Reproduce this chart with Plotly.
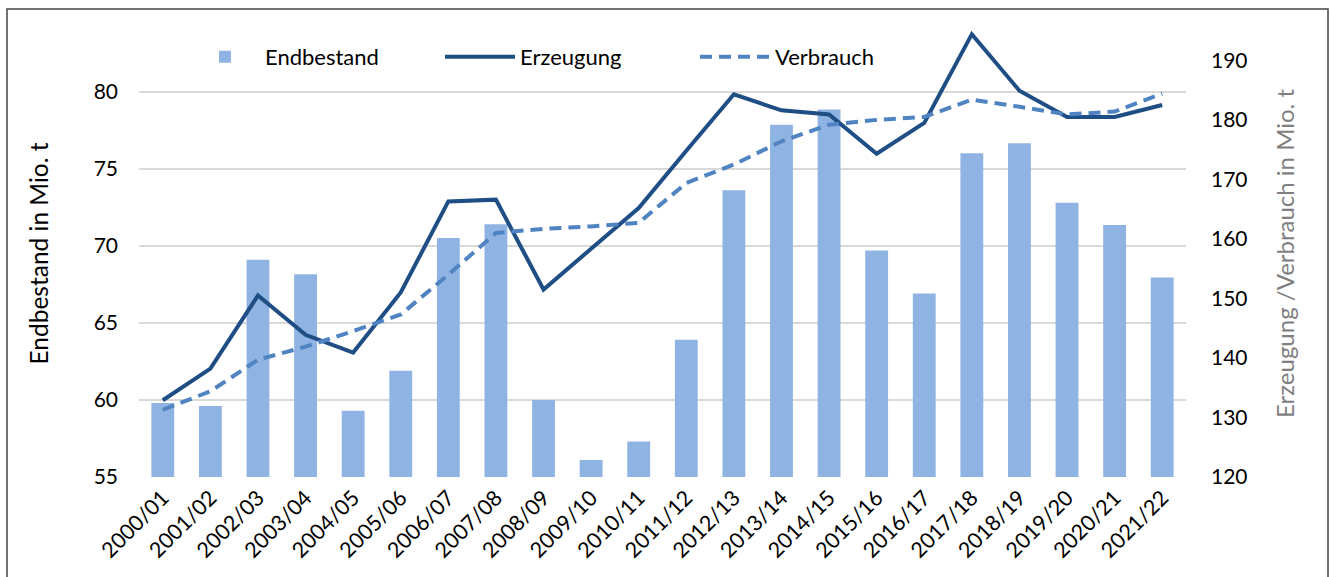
import plotly.graph_objects as go

categories = ["2000/01", "2001/02", "2002/03", "2003/04", "2004/05", "2005/06", "2006/07",
              "2007/08", "2008/09", "2009/10", "2010/11", "2011/12", "2012/13", "2013/14",
              "2014/15", "2015/16", "2016/17", "2017/18", "2018/19", "2019/20", "2020/21",
              "2021/22"]
endbestand = [59.8, 59.6, 69.1, 68.15, 59.3, 61.9, 70.5, 71.4, 60.0, 56.1, 57.3, 63.9,
              73.6, 77.85, 78.85, 69.7, 66.9, 76.0, 76.65, 72.8, 71.35, 67.95]
erzeugung = [132.9, 138.2, 150.5, 143.9, 140.9, 151.0, 166.3, 166.6, 151.5, 158.4, 165.2,
             174.8, 184.3, 181.6, 180.9, 174.3, 179.5, 194.4, 184.9, 180.5, 180.5, 182.5]
verbrauch = [131.3, 134.4, 139.7, 141.9, 144.5, 147.3, 154.0, 161.0, 161.7, 162.1, 162.7,
             169.4, 172.5, 176.4, 179.2, 180.0, 180.5, 183.4, 182.2, 180.9, 181.4, 184.4]

left_ticks = [55, 60, 65, 70, 75, 80]
right_ticks = [120, 130, 140, 150, 160, 170, 180, 190]

FONT = "Lato"
ML, MR, MT, MB = 139, 144, 30, 100
PW = 1330 - ML - MR
PH = 577 - MT - MB

fig = go.Figure()
fig.add_trace(go.Bar(x=categories, y=endbestand, name="Endbestand",
                     marker=dict(color="#8FB4E3", line=dict(width=0)), yaxis="y"))
fig.add_trace(go.Scatter(x=categories, y=erzeugung, name="Erzeugung", mode="lines",
                         line=dict(color="#1F4E85", width=4), yaxis="y2"))
fig.add_trace(go.Scatter(x=categories, y=verbrauch, name="Verbrauch", mode="lines",
                         line=dict(color="#4F83C2", width=4, dash="12px,7px"), yaxis="y2"))

fig.update_layout(
    width=1330, height=577,
    margin=dict(l=ML, r=MR, t=MT, b=MB, autoexpand=False),
    paper_bgcolor="white", plot_bgcolor="white",
    font=dict(family=FONT, size=21, color="black"),
    bargap=0.52,
    showlegend=True,
    legend=dict(orientation="h", x=(185 - ML) / PW, y=(577 - MB - 57) / PH,
                xanchor="left", yanchor="middle",
                font=dict(family=FONT, size=22, color="black"),
                itemwidth=70,
                entrywidth=170, entrywidthmode="pixels",
                bgcolor="rgba(0,0,0,0)", traceorder="normal"),
    xaxis=dict(type="category", tickangle=-45, showgrid=False, showline=False,
               ticks="", tickfont=dict(family=FONT, size=21.5), ticklabelstandoff=3),
    yaxis=dict(range=[55, 84.0], tickvals=left_ticks, showgrid=True, gridcolor="#D9D9D9",
               gridwidth=1.5, zeroline=False, showline=False, ticks="",
               ticklabelstandoff=20, tickfont=dict(size=21),
               title=dict(text="Endbestand in Mio. t", standoff=38,
                          font=dict(family=FONT, size=24.5, color="black"))),
    yaxis2=dict(range=[120, 195.1], tickvals=right_ticks, overlaying="y", side="right",
                showgrid=False, zeroline=False, showline=False, ticks="",
                ticklabelstandoff=24, tickfont=dict(size=21),
                title=dict(text="Erzeugung /Verbrauch in Mio. t", standoff=30,
                           font=dict(family=FONT, size=24, color="#7F7F7F"))),
)

# outer frame of the chart area
fig.add_shape(type="rect", xref="paper", yref="paper",
              x0=(7 - ML) / PW, x1=(1328 - ML) / PW,
              y0=-0.4, y1=(577 - MB - 9) / PH,
              line=dict(color="#444444", width=1.5), layer="below")

fig.write_html("out.html", config={"displayModeBar": False},
               post_script="document.body.style.margin='0';")
